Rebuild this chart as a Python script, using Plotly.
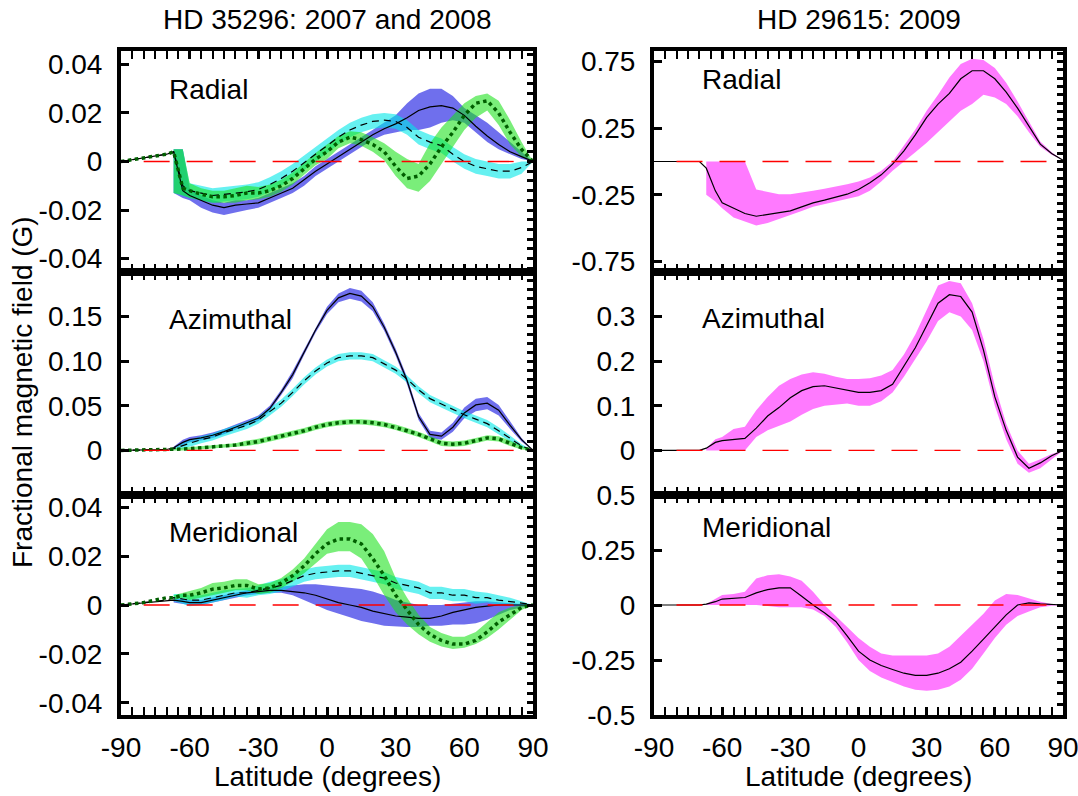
import numpy as np
import plotly.graph_objects as go

# ---------------- data ----------------
LAT = [-90, -80, -70, -67, -63, -60, -55, -50, -45, -40, -35, -30, -25, -20, -15, -10, -5, 0,
       5, 10, 15, 20, 25, 30, 35, 40, 45, 50, 55, 60, 65, 70, 75, 80, 85, 90]
LAT_BAND = [-67, -63, -60, -55, -50, -45, -40, -35, -30, -25, -20, -15, -10, -5, 0,
            5, 10, 15, 20, 25, 30, 35, 40, 45, 50, 55, 60, 65, 70, 75, 80, 85, 90]

# HD 35296 - Radial
RAD_BLUE = [0, 0.0015, 0.003, 0.004, -0.012, -0.014, -0.016, -0.018, -0.019, -0.018, -0.0175, -0.017,
            -0.015, -0.013, -0.011, -0.0075, -0.004, -0.001, 0.002, 0.005, 0.008, 0.011, 0.0135, 0.0155,
            0.018, 0.021, 0.0225, 0.023, 0.022, 0.019, 0.0145, 0.0105, 0.007, 0.004, 0.002, 0]
RAD_BLUE_HI = [0.005, 0.005, -0.011, -0.014, -0.016, -0.017, -0.016, -0.016, -0.015, -0.013, -0.011,
               -0.009, -0.006, -0.002, 0.001, 0.004, 0.007, 0.010, 0.013, 0.016, 0.019, 0.024, 0.028,
               0.030, 0.030, 0.027, 0.022, 0.019, 0.016, 0.012, 0.008, 0.004, 0]
RAD_BLUE_LO = [-0.013, -0.015, -0.016, -0.019, -0.021, -0.022, -0.021, -0.020, -0.019, -0.017, -0.015,
               -0.013, -0.010, -0.006, -0.003, 0.000, 0.003, 0.006, 0.009, 0.011, 0.012, 0.013, 0.013,
               0.014, 0.016, 0.017, 0.016, 0.012, 0.008, 0.005, 0.003, 0.001, 0]
RAD_CYAN = [0, 0.0015, 0.003, 0.004, -0.010, -0.012, -0.013, -0.014, -0.0135, -0.013, -0.0125, -0.0115,
            -0.0095, -0.007, -0.004, -0.0005, 0.003, 0.0065, 0.010, 0.013, 0.015, 0.0165, 0.017, 0.0165,
            0.014, 0.010, 0.008, 0.0065, 0.003, 0.000, -0.002, -0.003, -0.004, -0.004, -0.0025, 0]
RAD_CYAN_HI = [0.005, 0.005, -0.009, -0.010, -0.011, -0.0105, -0.010, -0.0095, -0.0085, -0.0065, -0.004,
               -0.001, 0.0025, 0.006, 0.0095, 0.013, 0.016, 0.018, 0.0195, 0.020, 0.0195, 0.017, 0.013,
               0.011, 0.0095, 0.006, 0.003, 0.001, 0.000, -0.001, -0.001, 0.000, 0]
RAD_CYAN_LO = [-0.013, -0.014, -0.015, -0.016, -0.017, -0.0165, -0.016, -0.0155, -0.0145, -0.0125, -0.010,
               -0.007, -0.0035, 0.000, 0.0035, 0.007, 0.010, 0.012, 0.0135, 0.014, 0.0135, 0.011, 0.007,
               0.005, 0.0035, 0.000, -0.003, -0.005, -0.006, -0.007, -0.007, -0.005, 0]
RAD_GREEN = [0, 0.0015, 0.003, 0.004, -0.011, -0.012, -0.0135, -0.0145, -0.0145, -0.014, -0.013, -0.013,
             -0.012, -0.010, -0.007, -0.003, 0.001, 0.004, 0.008, 0.010, 0.009, 0.007, 0.004, -0.002,
             -0.007, -0.006, -0.001, 0.006, 0.012, 0.019, 0.024, 0.025, 0.020, 0.012, 0.005, 0]
RAD_GREEN_HI = [0.005, 0.005, -0.009, -0.011, -0.012, -0.012, -0.011, -0.010, -0.0105, -0.0095, -0.0075,
                -0.0045, -0.0005, 0.0035, 0.007, 0.0105, 0.0125, 0.012, 0.010, 0.0075, 0.004, 0.001,
                -0.001, 0.0075, 0.014, 0.019, 0.024, 0.027, 0.028, 0.025, 0.017, 0.008, 0]
RAD_GREEN_LO = [-0.013, -0.014, -0.015, -0.016, -0.017, -0.017, -0.017, -0.016, -0.0155, -0.0145, -0.0125,
                -0.0095, -0.0055, -0.0015, 0.001, 0.0055, 0.0075, 0.0065, 0.004, 0.0005, -0.006, -0.011,
                -0.0125, -0.008, -0.001, 0.006, 0.013, 0.018, 0.021, 0.015, 0.007, 0.002, 0]

# HD 35296 - Azimuthal
AZI_BLUE = [0, 0.0005, 0.001, 0.003, 0.009, 0.012, 0.014, 0.017, 0.021, 0.026, 0.031, 0.036, 0.047, 0.065,
            0.085, 0.110, 0.135, 0.157, 0.171, 0.176, 0.173, 0.161, 0.138, 0.110, 0.078, 0.038, 0.018,
            0.016, 0.026, 0.042, 0.051, 0.053, 0.045, 0.028, 0.012, 0]
AZI_BLUE_HI = [0.004, 0.012, 0.015, 0.017, 0.020, 0.024, 0.029, 0.034, 0.039, 0.050, 0.068, 0.089, 0.113,
               0.138, 0.161, 0.176, 0.182, 0.179, 0.166, 0.142, 0.114, 0.082, 0.042, 0.022, 0.020, 0.031,
               0.048, 0.058, 0.060, 0.051, 0.032, 0.014, 0]
AZI_BLUE_LO = [0.002, 0.006, 0.009, 0.011, 0.014, 0.018, 0.023, 0.028, 0.033, 0.044, 0.062, 0.081, 0.107,
               0.132, 0.153, 0.166, 0.170, 0.167, 0.156, 0.134, 0.106, 0.074, 0.034, 0.014, 0.012, 0.021,
               0.036, 0.044, 0.046, 0.039, 0.024, 0.010, 0]
AZI_CYAN = [0, 0.0005, 0.001, 0.002, 0.005, 0.008, 0.012, 0.015, 0.020, 0.024, 0.028, 0.034, 0.043, 0.053,
            0.065, 0.078, 0.089, 0.098, 0.104, 0.106, 0.106, 0.104, 0.097, 0.090, 0.080, 0.068, 0.058,
            0.052, 0.046, 0.040, 0.035, 0.030, 0.022, 0.013, 0.005, 0]
AZI_CYAN_HI = [0.003, 0.008, 0.012, 0.016, 0.019, 0.024, 0.028, 0.032, 0.038, 0.047, 0.057, 0.069, 0.082,
               0.093, 0.102, 0.108, 0.110, 0.110, 0.108, 0.101, 0.094, 0.084, 0.072, 0.062, 0.056, 0.050,
               0.044, 0.039, 0.034, 0.026, 0.016, 0.007, 0]
AZI_CYAN_LO = [0.001, 0.002, 0.004, 0.008, 0.011, 0.016, 0.020, 0.024, 0.030, 0.039, 0.049, 0.061, 0.074,
               0.085, 0.094, 0.100, 0.102, 0.102, 0.100, 0.093, 0.086, 0.076, 0.064, 0.054, 0.048, 0.042,
               0.036, 0.031, 0.026, 0.018, 0.010, 0.003, 0]
AZI_GREEN = [0, 0.0003, 0.0007, 0.001, 0.0015, 0.002, 0.003, 0.004, 0.005, 0.006, 0.008, 0.010, 0.013,
             0.016, 0.019, 0.022, 0.026, 0.029, 0.031, 0.032, 0.032, 0.031, 0.029, 0.026, 0.022, 0.018,
             0.013, 0.008, 0.007, 0.008, 0.011, 0.014, 0.013, 0.008, 0.003, 0]
AZI_GREEN_HI = [0.002, 0.003, 0.004, 0.005, 0.006, 0.007, 0.008, 0.011, 0.013, 0.016, 0.019, 0.022, 0.025,
                0.029, 0.032, 0.034, 0.035, 0.035, 0.034, 0.032, 0.029, 0.025, 0.021, 0.016, 0.011, 0.010,
                0.011, 0.014, 0.017, 0.016, 0.011, 0.005, 0]
AZI_GREEN_LO = [0.000, 0.000, 0.000, 0.001, 0.002, 0.003, 0.004, 0.005, 0.007, 0.010, 0.013, 0.016, 0.019,
                0.023, 0.026, 0.028, 0.029, 0.029, 0.028, 0.026, 0.023, 0.019, 0.015, 0.010, 0.005, 0.004,
                0.005, 0.008, 0.011, 0.010, 0.005, 0.001, 0]

# HD 35296 - Meridional
MER_BLUE = [0, 0.001, 0.002, 0.002, 0.0015, 0.001, 0.001, 0.002, 0.003, 0.004, 0.005, 0.0055, 0.006, 0.006,
            0.0055, 0.005, 0.004, 0.0025, 0.001, 0.0, -0.001, -0.0025, -0.0035, -0.0045, -0.005, -0.0055,
            -0.0055, -0.0045, -0.003, -0.002, -0.001, -0.0005, 0.0, 0.0, 0.0, 0]
MER_BLUE_HI = [0.003, 0.0025, 0.002, 0.002, 0.003, 0.004, 0.005, 0.006, 0.0065, 0.007, 0.0075, 0.008,
               0.0085, 0.0085, 0.008, 0.0075, 0.007, 0.0065, 0.0055, 0.004, 0.002, 0.001, 0.0, 0.0, 0.0,
               0.0005, 0.001, 0.0015, 0.0015, 0.0012, 0.0008, 0.0004, 0]
MER_BLUE_LO = [0.001, 0.0005, 0.0, 0.0, 0.001, 0.002, 0.003, 0.004, 0.0045, 0.005, 0.005, 0.004, 0.002,
               0.0, -0.002, -0.0035, -0.005, -0.0065, -0.0075, -0.0085, -0.0088, -0.009, -0.009, -0.0085,
               -0.0085, -0.008, -0.008, -0.0075, -0.006, -0.004, -0.002, -0.001, 0]
MER_CYAN = [0, 0.001, 0.002, 0.003, 0.0025, 0.002, 0.002, 0.003, 0.004, 0.005, 0.005, 0.006, 0.007, 0.008,
            0.010, 0.012, 0.013, 0.0135, 0.014, 0.014, 0.013, 0.012, 0.011, 0.009, 0.008, 0.007, 0.005,
            0.005, 0.004, 0.004, 0.003, 0.003, 0.002, 0.0015, 0.0008, 0]
MER_CYAN_HI = [0.0045, 0.0045, 0.004, 0.004, 0.005, 0.006, 0.0065, 0.007, 0.008, 0.0095, 0.0105, 0.0125,
               0.0145, 0.0155, 0.016, 0.0165, 0.0165, 0.0155, 0.0145, 0.0135, 0.0115, 0.0105, 0.0095,
               0.0075, 0.0075, 0.0065, 0.0065, 0.0055, 0.005, 0.004, 0.003, 0.0015, 0]
MER_CYAN_LO = [0.0015, 0.0005, -0.0005, 0.000, 0.001, 0.002, 0.0035, 0.003, 0.004, 0.0045, 0.0055, 0.0075,
               0.0095, 0.0105, 0.011, 0.0115, 0.0115, 0.0105, 0.0095, 0.0085, 0.0065, 0.0055, 0.0045,
               0.0025, 0.0025, 0.0015, 0.0015, 0.0005, 0.001, 0.000, 0.000, 0.000, 0]
MER_GREEN = [0, 0.001, 0.003, 0.003, 0.004, 0.004, 0.005, 0.0065, 0.007, 0.008, 0.008, 0.0065, 0.007, 0.009,
             0.012, 0.016, 0.021, 0.025, 0.027, 0.027, 0.025, 0.019, 0.012, 0.004, -0.002, -0.008, -0.012,
             -0.0145, -0.016, -0.016, -0.0145, -0.011, -0.007, -0.004, -0.001, 0]
MER_GREEN_HI = [0.004, 0.005, 0.006, 0.007, 0.009, 0.0095, 0.0105, 0.0105, 0.0085, 0.009, 0.011, 0.0145,
                0.019, 0.025, 0.031, 0.034, 0.034, 0.033, 0.029, 0.022, 0.011, 0.003, -0.004, -0.009,
                -0.0115, -0.013, -0.013, -0.011, -0.007, -0.003, -0.001, 0.000, 0]
MER_GREEN_LO = [0.002, 0.003, 0.002, 0.003, 0.004, 0.005, 0.006, 0.006, 0.0045, 0.005, 0.007, 0.0095,
                0.013, 0.017, 0.021, 0.022, 0.022, 0.019, 0.012, 0.004, -0.003, -0.008, -0.012, -0.015,
                -0.017, -0.018, -0.0175, -0.016, -0.0135, -0.010, -0.006, -0.002, 0]

# HD 29615 (2009)
R2_RAD = [0, 0, 0, -0.05, -0.22, -0.31, -0.35, -0.39, -0.41, -0.395, -0.385, -0.37, -0.34, -0.31, -0.29,
          -0.27, -0.245, -0.21, -0.16, -0.10, -0.02, 0.08, 0.20, 0.33, 0.43, 0.51, 0.62, 0.68, 0.68, 0.62,
          0.52, 0.40, 0.26, 0.13, 0.06, 0.01]
R2_RAD_HI = [0, 0, 0, 0, 0, -0.21, -0.23, -0.245, -0.245, -0.235, -0.22, -0.205, -0.19, -0.17, -0.15,
             -0.12, -0.07, 0.0, 0.12, 0.24, 0.38, 0.50, 0.63, 0.73, 0.77, 0.76, 0.70, 0.59, 0.45, 0.30,
             0.15, 0.07, 0.01]
R2_RAD_LO = [-0.25, -0.30, -0.35, -0.42, -0.45, -0.48, -0.46, -0.43, -0.40, -0.37, -0.34, -0.32, -0.30,
             -0.28, -0.26, -0.22, -0.15, -0.07, 0.0, 0.07, 0.14, 0.22, 0.30, 0.38, 0.43, 0.50, 0.48, 0.43,
             0.34, 0.22, 0.11, 0.05, 0.01]
R2_AZI = [0, 0, 0, 0.005, 0.018, 0.022, 0.024, 0.027, 0.05, 0.077, 0.096, 0.118, 0.134, 0.143, 0.145,
          0.14, 0.134, 0.13, 0.13, 0.134, 0.148, 0.19, 0.23, 0.28, 0.33, 0.349, 0.345, 0.31, 0.225, 0.12,
          0.045, -0.015, -0.04, -0.028, -0.012, 0]
R2_AZI_HI = [0.005, 0.025, 0.03, 0.048, 0.053, 0.09, 0.12, 0.145, 0.16, 0.17, 0.175, 0.172, 0.165, 0.16,
             0.16, 0.162, 0.168, 0.18, 0.215, 0.26, 0.315, 0.37, 0.38, 0.375, 0.33, 0.25, 0.145, 0.06, 0.0,
             -0.03, -0.02, -0.008, 0]
R2_AZI_LO = [0.0, 0.0, 0.0, 0.0, 0.0, 0.03, 0.045, 0.055, 0.065, 0.08, 0.093, 0.1, 0.103, 0.105, 0.1, 0.1,
             0.11, 0.13, 0.165, 0.205, 0.245, 0.29, 0.31, 0.3, 0.27, 0.2, 0.1, 0.025, -0.03, -0.05, -0.04,
             -0.02, 0]
R2_MER = [0, 0, 0, 0.004, 0.015, 0.027, 0.03, 0.034, 0.055, 0.07, 0.078, 0.078, 0.04, 0.0, -0.035, -0.075,
          -0.14, -0.21, -0.25, -0.275, -0.293, -0.31, -0.32, -0.32, -0.31, -0.29, -0.26, -0.21, -0.155,
          -0.1, -0.045, 0.0, 0.01, 0.005, 0.002, 0]
R2_MER_HI = [0.005, 0.03, 0.045, 0.05, 0.06, 0.12, 0.135, 0.14, 0.13, 0.11, 0.06, 0.0, -0.05, -0.1, -0.15,
             -0.19, -0.22, -0.23, -0.23, -0.23, -0.23, -0.22, -0.19, -0.14, -0.09, -0.04, 0.02, 0.05,
             0.045, 0.03, 0.015, 0.005, 0]
R2_MER_LO = [0, 0, 0, 0, 0, 0, -0.005, -0.01, -0.01, -0.01, -0.02, -0.05, -0.1, -0.17, -0.25, -0.3, -0.33,
             -0.35, -0.37, -0.385, -0.39, -0.385, -0.37, -0.34, -0.29, -0.22, -0.15, -0.09, -0.05, -0.03,
             -0.01, -0.003, 0]

X_TICKS = [-90, -60, -30, 0, 30, 60, 90]
TITLES = ["HD 35296: 2007 and 2008", "HD 29615: 2009"]
COMPONENTS = ["Radial", "Azimuthal", "Meridional"]

# ---------------- styling ----------------
FONT = "Liberation Sans, Arial, sans-serif"
FS = 28
W, H = 1078, 796
COL_X = [(121, 533), (654, 1063)]
ROW_Y = [(51, 272), (272, 495), (495, 715)]

BLUE_F = "rgba(15,15,225,0.6)"
CYAN_F = "rgba(0,232,232,0.6)"
GREEN_F = "rgba(25,225,25,0.58)"
MAG_F = "rgb(255,122,255)"

panels = [
    (0, 0, [-0.0455, 0.0455], [-0.04, -0.02, 0, 0.02, 0.04], ["-0.04", "-0.02", "0", "0.02", "0.04"], 0.004,
     [(RAD_BLUE, RAD_BLUE_HI, RAD_BLUE_LO, BLUE_F, "blue"),
      (RAD_CYAN, RAD_CYAN_HI, RAD_CYAN_LO, CYAN_F, "cyan"),
      (RAD_GREEN, RAD_GREEN_HI, RAD_GREEN_LO, GREEN_F, "green")]),
    (0, 1, [-0.828, 0.828], [-0.75, -0.25, 0.25, 0.75], ["-0.75", "-0.25", "0.25", "0.75"], 0.0625,
     [(R2_RAD, R2_RAD_HI, R2_RAD_LO, MAG_F, "mag")]),
    (1, 0, [-0.05, 0.20], [0, 0.05, 0.10, 0.15], ["0", "0.05", "0.10", "0.15"], 0.01,
     [(AZI_BLUE, AZI_BLUE_HI, AZI_BLUE_LO, BLUE_F, "blue"),
      (AZI_CYAN, AZI_CYAN_HI, AZI_CYAN_LO, CYAN_F, "cyan"),
      (AZI_GREEN, AZI_GREEN_HI, AZI_GREEN_LO, GREEN_F, "green")]),
    (1, 1, [-0.1, 0.4], [0, 0.1, 0.2, 0.3], ["0", "0.1", "0.2", "0.3"], 0.02,
     [(R2_AZI, R2_AZI_HI, R2_AZI_LO, MAG_F, "mag")]),
    (2, 0, [-0.045, 0.045], [-0.04, -0.02, 0, 0.02, 0.04], ["-0.04", "-0.02", "0", "0.02", "0.04"], 0.004,
     [(MER_BLUE, MER_BLUE_HI, MER_BLUE_LO, BLUE_F, "blue"),
      (MER_CYAN, MER_CYAN_HI, MER_CYAN_LO, CYAN_F, "cyan"),
      (MER_GREEN, MER_GREEN_HI, MER_GREEN_LO, GREEN_F, "green")]),
    (2, 1, [-0.5, 0.5], [-0.5, -0.25, 0, 0.25, 0.5], ["-0.5", "-0.25", "0", "0.25", "0.5"], 0.05,
     [(R2_MER, R2_MER_HI, R2_MER_LO, MAG_F, "mag")]),
]

LINE_STYLE = {
    "blue": dict(color="black", width=1.2),
    "cyan": dict(color="black", width=1.2, dash="7px,5px"),
    "green": dict(color="rgb(0,95,0)", width=3.5, dash="dot"),
    "mag": dict(color="black", width=1.2),
}

fig = go.Figure()
layout = dict(
    width=W, height=H, margin=dict(l=0, r=0, t=0, b=0, autoexpand=False),
    paper_bgcolor="white", plot_bgcolor="white", showlegend=False,
    font=dict(family=FONT, size=FS, color="black"),
)
shapes = []
annotations = []

for i, (row, col, yr, tv, tt, mstep, series) in enumerate(panels):
    p = i + 1
    po = p + 6
    xname = "x" if p == 1 else f"x{p}"
    yname = "y" if p == 1 else f"y{p}"
    yoname = f"y{po}"
    xd = [COL_X[col][0] / W, COL_X[col][1] / W]
    yd = [1 - ROW_Y[row][1] / H, 1 - ROW_Y[row][0] / H]

    layout["xaxis" if p == 1 else f"xaxis{p}"] = dict(
        domain=xd, anchor=yname, range=[-90, 90], tickvals=X_TICKS,
        ticktext=[str(v) for v in X_TICKS], showticklabels=(row == 2),
        ticks="inside", ticklen=8, tickwidth=3, tickcolor="black",
        showline=True, linewidth=4, linecolor="black", mirror="allticks",
        showgrid=False, zeroline=False, ticklabelstandoff=4, automargin=False,
        ticklabeloverflow="allow",
        tickfont=dict(family=FONT, size=FS, color="black"),
        minor=dict(dtick=5, tick0=0, ticks="inside", ticklen=5, tickwidth=2, tickcolor="black",
                   showgrid=False),
    )
    layout["yaxis" if p == 1 else f"yaxis{p}"] = dict(
        domain=yd, anchor=xname, range=yr, tickvals=tv, ticktext=tt,
        ticks="inside", ticklen=8, tickwidth=3, tickcolor="black",
        showline=True, linewidth=4, linecolor="black", mirror=True,
        showgrid=False, zeroline=False, ticklabelstandoff=9, automargin=False,
        ticklabeloverflow="allow",
        tickfont=dict(family=FONT, size=FS, color="black"),
    )
    lo_t = np.ceil(yr[0] / mstep - 1e-9) * mstep
    minor_vals = list(np.arange(lo_t, yr[1] + 1e-9, mstep))
    layout[f"yaxis{po}"] = dict(
        overlaying=yname, anchor=xname, side="right", range=yr,
        tickvals=minor_vals, showticklabels=False, automargin=False,
        ticks="inside", ticklen=6, tickwidth=2.5, tickcolor="black",
        showline=False, showgrid=False, zeroline=False,
    )

    # uncertainty bands
    for c, hi, lo, fcol, key in series:
        fig.add_trace(go.Scatter(
            x=LAT_BAND + LAT_BAND[::-1], y=hi + lo[::-1], fill="toself",
            fillcolor=fcol, line=dict(width=0), mode="lines",
            xaxis=xname, yaxis=yname, hoverinfo="skip"))
    # central lines
    for c, hi, lo, fcol, key in series:
        fig.add_trace(go.Scatter(
            x=LAT, y=c, mode="lines", line=LINE_STYLE[key],
            xaxis=xname, yaxis=yoname))

    # red dashed zero reference line
    shapes.append(dict(type="line", xref=f"{xname} domain", yref=yname,
                       x0=0.055, x1=0.975, y0=0, y1=0, layer="above",
                       line=dict(color="red", width=1.3, dash="26px,17px")))

    # component label
    lab_y = {0: (89, 79), 1: (319, 318), 2: (532, 527)}[row][col]
    annotations.append(dict(text=COMPONENTS[row], xref="paper", yref="paper",
                            x=(167 if col == 0 else 700) / W, y=1 - lab_y / H,
                            xanchor="left", yanchor="middle", showarrow=False,
                            font=dict(family=FONT, size=FS, color="black")))

for col in range(2):
    cx = (COL_X[col][0] + COL_X[col][1]) / 2 / W
    annotations.append(dict(text=TITLES[col], xref="paper", yref="paper", x=cx, y=1 - 19 / H,
                            xanchor="center", yanchor="middle", showarrow=False,
                            font=dict(family=FONT, size=FS, color="black")))
    annotations.append(dict(text="Latitude (degrees)", xref="paper", yref="paper", x=cx,
                            y=1 - 776 / H, xanchor="center", yanchor="middle", showarrow=False,
                            font=dict(family=FONT, size=FS, color="black")))

annotations.append(dict(text="Fractional magnetic field (G)", xref="paper", yref="paper",
                        x=22 / W, y=1 - 392 / H, textangle=-90, xanchor="center", yanchor="middle",
                        showarrow=False, font=dict(family=FONT, size=FS, color="black")))

layout["shapes"] = shapes
layout["annotations"] = annotations
fig.update_layout(**layout)
fig.write_html("out.html")
